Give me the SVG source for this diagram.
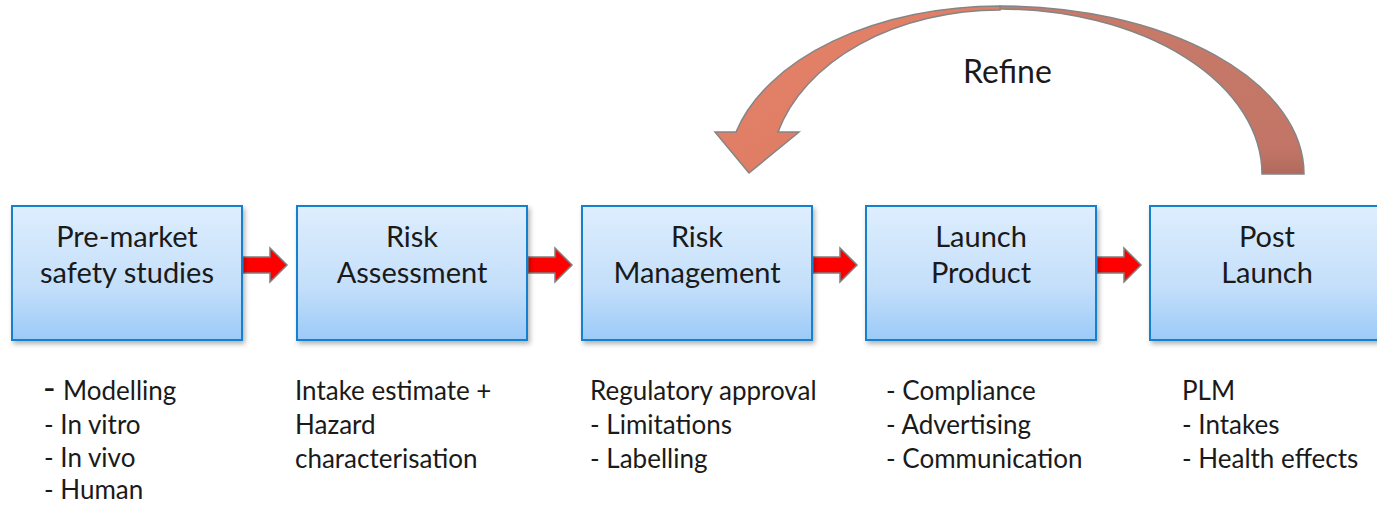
<svg xmlns="http://www.w3.org/2000/svg" width="1377" height="505" viewBox="0 0 1377 505">
<style>
.box{fill:url(#boxGrad);stroke:#1580D0;stroke-width:2;filter:url(#shadow)}
.btxt{font-family:Lato,"Liberation Sans",sans-serif;font-size:29px;fill:#1a1a1a;text-anchor:middle}
.note{font-family:Lato,"Liberation Sans",sans-serif;font-size:26px;fill:#1a1a1a}
.red{fill:#FF0000;stroke:#7f7f7f;stroke-width:1.5;stroke-linejoin:miter}
.curve{stroke:#858585;stroke-width:1.5;stroke-linejoin:miter}
</style>
<defs>
<linearGradient id="boxGrad" x1="0" y1="0" x2="0" y2="1">
<stop offset="0" stop-color="#DEEEFE"/>
<stop offset="0.6" stop-color="#C4DFFA"/>
<stop offset="1" stop-color="#9BCAF8"/>
</linearGradient>
<linearGradient id="frontGrad" x1="0" y1="0" x2="1" y2="1">
<stop offset="0" stop-color="#E6836B"/>
<stop offset="1" stop-color="#DA7860"/>
</linearGradient>
<linearGradient id="backGrad" x1="0" y1="0" x2="0" y2="1">
<stop offset="0" stop-color="#C97A69"/>
<stop offset="0.85" stop-color="#C27566"/>
<stop offset="1" stop-color="#AF6A5D"/>
</linearGradient>
<filter id="shadow" x="-10%" y="-10%" width="125%" height="130%">
<feDropShadow dx="2" dy="3" stdDeviation="2.5" flood-color="#000" flood-opacity="0.3"/>
</filter>
</defs>

<g id="connectors">
<path class="red" d="M243,257 H270 V248 L287,265 L270,282 V273 H243 Z"/>
<path class="red" d="M528,257 H555 V248 L572,265 L555,282 V273 H528 Z"/>
<path class="red" d="M813,257 H840 V248 L857,265 L840,282 V273 H813 Z"/>
<path class="red" d="M1097,257 H1124 V248 L1141,265 L1124,282 V273 H1097 Z"/>
<g id="refine-loop">
<path class="curve" fill="url(#backGrad)" d="M1000,6 A304,168 0 0 1 1304,174 L1262,174 A262,165 0 0 0 1000,9 Z"/>
<path class="curve" fill="url(#frontGrad)" d="M715,132 L736,132 A272.7,168 0 0 1 1000,6 L1000,10 A229.7,164 0 0 0 778,132 L799,132 L749,173 Z"/>
<text x="963" y="83" font-family="Lato,'Liberation Sans',sans-serif" font-size="32" fill="#1a1a1a">Refine</text>
</g>
</g>

<g id="node-premarket">
<rect class="box" x="12" y="206" width="230" height="134"/>
<text class="btxt" x="127" y="247">Pre-market</text>
<text class="btxt" x="127" y="283">safety studies</text>
</g>
<g id="node-assessment">
<rect class="box" x="297" y="206" width="230" height="134"/>
<text class="btxt" x="412" y="247">Risk</text>
<text class="btxt" x="412" y="283">Assessment</text>
</g>
<g id="node-management">
<rect class="box" x="582" y="206" width="230" height="134"/>
<text class="btxt" x="697" y="247">Risk</text>
<text class="btxt" x="697" y="283">Management</text>
</g>
<g id="node-launch">
<rect class="box" x="866" y="206" width="230" height="134"/>
<text class="btxt" x="981" y="247">Launch</text>
<text class="btxt" x="981" y="283">Product</text>
</g>
<g id="node-post">
<rect class="box" x="1150" y="206" width="232" height="134"/>
<text class="btxt" x="1267" y="247">Post</text>
<text class="btxt" x="1267" y="283">Launch</text>
</g>

<g id="notes">
<text class="note" y="400"><tspan x="43" font-size="34">-</tspan><tspan x="63">Modelling</tspan></text>
<text class="note" x="44" y="434">- In vitro</text>
<text class="note" x="44" y="467">- In vivo</text>
<text class="note" x="44" y="499">- Human</text>

<text class="note" x="295" y="400">Intake estimate +</text>
<text class="note" x="295" y="434">Hazard</text>
<text class="note" x="295" y="468">characterisation</text>

<text class="note" x="590" y="400">Regulatory approval</text>
<text class="note" x="590" y="434">- Limitations</text>
<text class="note" x="590" y="468">- Labelling</text>

<text class="note" x="886" y="400">- Compliance</text>
<text class="note" x="886" y="434">- Advertising</text>
<text class="note" x="886" y="468">- Communication</text>

<text class="note" x="1182" y="400">PLM</text>
<text class="note" x="1182" y="434">- Intakes</text>
<text class="note" x="1182" y="468">- Health effects</text>
</g>
</svg>
